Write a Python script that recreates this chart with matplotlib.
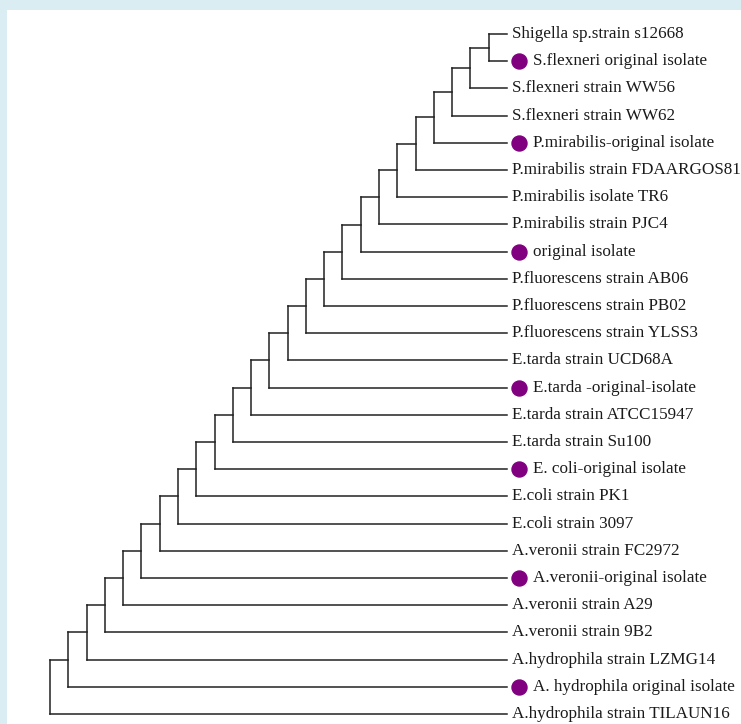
import matplotlib
matplotlib.use('Agg')
import matplotlib.pyplot as plt
import matplotlib.transforms as mtransforms

# Folhas da árvore, de cima para baixo
leaf_labels = [
    'Shigella sp.strain s12668',
    'S.flexneri original isolate',
    'S.flexneri strain WW56',
    'S.flexneri strain WW62',
    'P.mirabilis-original isolate',
    'P.mirabilis strain FDAARGOS81',
    'P.mirabilis isolate TR6',
    'P.mirabilis strain PJC4',
    'original isolate',
    'P.fluorescens strain AB06',
    'P.fluorescens strain PB02',
    'P.fluorescens strain YLSS3',
    'E.tarda strain UCD68A',
    'E.tarda -original-isolate',
    'E.tarda strain ATCC15947',
    'E.tarda strain Su100',
    'E. coli-original isolate',
    'E.coli strain PK1',
    'E.coli strain 3097',
    'A.veronii strain FC2972',
    'A.veronii-original isolate',
    'A.veronii strain A29',
    'A.veronii strain 9B2',
    'A.hydrophila strain LZMG14',
    'A. hydrophila original isolate',
    'A.hydrophila strain TILAUN16',
]
# isolados originais (marcados com círculo)
is_original = [0, 1, 0, 0, 1, 0, 0, 0, 1, 0, 0, 0, 0,
               1, 0, 0, 1, 0, 0, 0, 1, 0, 0, 0, 1, 0]
# profundidade dos nós internos: nó k junta o nó k+1 com a folha 25-k
node_depth = list(range(25))
leaf_depth = 25

W, H = 741, 724
fig = plt.figure(figsize=(W / 100, H / 100), dpi=100)
fig.patch.set_facecolor('#d9edf3')

# painel branco de fundo
bg = fig.add_axes([7 / W, 0, 1 - 7 / W, 1 - 10 / H], zorder=-1)
bg.axis('off')
bg.add_patch(plt.Rectangle((0, 0), 1, 1, transform=bg.transAxes, color='white'))

ax = fig.add_axes([50 / W, 10 / H, 457 / W, 680 / H])
ax.set_xlim(0, 25)
ax.set_ylim(25, 0)
ax.axis('off')

lc = '#222222'
lw = 1.1
n = len(leaf_labels)

# posição vertical de cada nó
node_y = [0.0] * 25
node_y[24] = (0 + 1) / 2
for k in range(23, -1, -1):
    node_y[k] = (node_y[k + 1] + (n - 1 - k)) / 2

# nó mais interno
d = node_depth[24]
ax.plot([d, d], [0, 1], color=lc, lw=lw, clip_on=False)
ax.plot([d, leaf_depth], [0, 0], color=lc, lw=lw, clip_on=False)
ax.plot([d, leaf_depth], [1, 1], color=lc, lw=lw, clip_on=False)
for k in range(23, -1, -1):
    d = node_depth[k]
    leaf = n - 1 - k
    ax.plot([d, d], [node_y[k + 1], leaf], color=lc, lw=lw, clip_on=False)
    ax.plot([d, node_depth[k + 1]], [node_y[k + 1], node_y[k + 1]], color=lc, lw=lw, clip_on=False)
    ax.plot([d, leaf_depth], [leaf, leaf], color=lc, lw=lw, clip_on=False)

# deslocamento do círculo à direita do fim do ramo
shift = ax.transData + mtransforms.ScaledTranslation(12 / 100, 0, fig.dpi_scale_trans)

for i, (lab, orig) in enumerate(zip(leaf_labels, is_original)):
    if orig:
        ax.plot([leaf_depth], [i], marker='o', markersize=10.8, color='#800080',
                clip_on=False, transform=shift)
        dx = 26
    else:
        dx = 5
    ax.annotate(lab, xy=(leaf_depth, i), xytext=(dx * 0.72, 0), textcoords='offset points',
                va='center', ha='left', fontsize=12.3, family='Liberation Serif',
                color='#1a1a1a', annotation_clip=False)

fig.savefig('out.png', dpi=100, facecolor=fig.get_facecolor())
